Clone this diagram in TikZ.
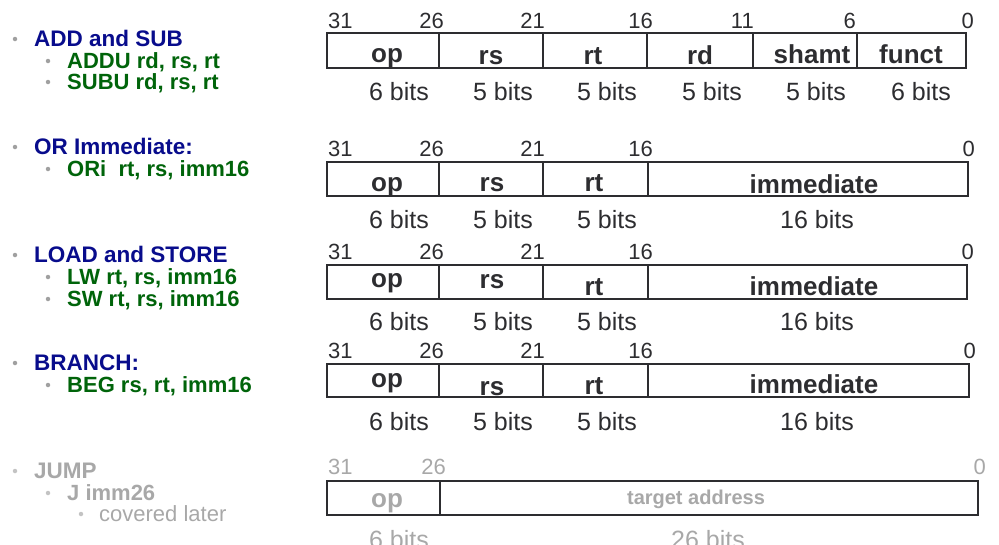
\documentclass[tikz,border=0pt]{standalone}
\usepackage{fontspec}
\setmainfont{Liberation Sans}
\definecolor{navy}{RGB}{8,12,140}
\definecolor{dgreen}{RGB}{0,100,10}
\definecolor{numc}{RGB}{45,45,48}
\definecolor{boxc}{RGB}{45,45,48}
\definecolor{grayt}{RGB}{168,168,168}
\definecolor{bulc}{RGB}{160,160,160}
\definecolor{bull}{RGB}{195,195,195}
\tikzset{
  num/.style={font=\fontsize{22}{24}\selectfont, text=numc, inner sep=0pt},
  numL/.style={num, anchor=base west},
  numR/.style={num, anchor=base east},
  bits/.style={font=\fontsize{25}{28}\selectfont, text=numc, inner sep=0pt, anchor=base},
  fld/.style={font=\bfseries\fontsize{26}{28}\selectfont, text=numc, inner sep=0pt, anchor=base},
  fbox/.style={draw=boxc, line width=2.6pt},
  fdiv/.style={draw=boxc, line width=2.2pt},
  head/.style={font=\bfseries\fontsize{22.5}{24}\selectfont, text=navy, inner sep=0pt, anchor=base west},
  sub/.style={font=\bfseries\fontsize{22}{24}\selectfont, text=dgreen, inner sep=0pt, anchor=base west},
  ghead/.style={head, text=grayt},
  gsub/.style={sub, text=grayt},
  gnum/.style={num, text=grayt},
  bul/.style={fill=bulc, draw=none, circle, inner sep=0pt, minimum size=4.5pt},
  gbul/.style={bul, fill=bull},
}
\begin{document}
\begin{tikzpicture}[x=1pt,y=-1pt]
\useasboundingbox (0,0) rectangle (999,544);

% ---------- left list ----------
\node[bul] (b1) at (15,39) {};
\node[head] (t1) at (34,46) {ADD and SUB};
\node[bul] (b1a) at (48,61) {};
\node[sub] (t1a) at (67,68) {ADDU rd, rs, rt};
\node[bul] (b1b) at (48,82) {};
\node[sub] (t1b) at (67,89) {SUBU rd, rs, rt};

\node[bul] (b2) at (15,147) {};
\node[head] (t2) at (34,154) {OR Immediate:};
\node[bul] (b2a) at (48,169) {};
\node[sub] (t2a) at (67,176) {ORi\ \ rt, rs, imm16};

\node[bul] (b3) at (15,255) {};
\node[head] (t3) at (34,262) {LOAD and STORE};
\node[bul] (b3a) at (48,277) {};
\node[sub] (t3a) at (67,284) {LW rt, rs, imm16};
\node[bul] (b3b) at (48,299) {};
\node[sub] (t3b) at (67,306) {SW rt, rs, imm16};

\node[bul] (b4) at (15,363) {};
\node[head] (t4) at (34,370) {BRANCH:};
\node[bul] (b4a) at (48,385) {};
\node[sub] (t4a) at (67,392) {BEG rs, rt, imm16};

\node[gbul] (b5) at (15,471) {};
\node[ghead] (t5) at (34,478) {JUMP};
\node[gbul] (b5a) at (48,493) {};
\node[gsub] (t5a) at (67,500) {J imm26};
\node[gbul] (b5b) at (81,514) {};
\node[font=\fontsize{22}{24}\selectfont, text=grayt, inner sep=0pt, anchor=base west] (t5b) at (99,521) {covered later};

% ---------- Row 1: R-type ----------
\draw[fbox] (327,33) rectangle (966,68);
\foreach \xx in {439,543,647,753,857} \draw[fdiv] (\xx,33) -- (\xx,68);
\node[numL] (r1n31) at (328,28) {31};
\node[numR] (r1n26) at (444,28) {26};
\node[numR] (r1n21) at (545,28) {21};
\node[numR] (r1n16) at (653,28) {16};
\node[numR] (r1n11) at (754,28) {11};
\node[numR] (r1n6) at (856,28) {6};
\node[numR] (r1n0) at (974,28) {0};
\node[fld] (r1op) at (387,62) {op};
\node[fld] (r1rs) at (491,64) {rs};
\node[fld] (r1rt) at (593,64) {rt};
\node[fld] (r1rd) at (700,64) {rd};
\node[fld] (r1sh) at (812,63) {shamt};
\node[fld] (r1fn) at (911,63) {funct};
\node[bits] (r1b1) at (399,100) {6 bits};
\node[bits] (r1b2) at (503,100) {5 bits};
\node[bits] (r1b3) at (607,100) {5 bits};
\node[bits] (r1b4) at (712,100) {5 bits};
\node[bits] (r1b5) at (816,100) {5 bits};
\node[bits] (r1b6) at (921,100) {6 bits};

% ---------- Row 2: ORi ----------
\draw[fbox] (327,162) rectangle (968,196);
\foreach \xx in {439,543,648} \draw[fdiv] (\xx,162) -- (\xx,196);
\node[numL] (r2n31) at (328,156) {31};
\node[numR] (r2n26) at (444,156) {26};
\node[numR] (r2n21) at (545,156) {21};
\node[numR] (r2n16) at (653,156) {16};
\node[numR] (r2n0) at (975,156) {0};
\node[fld] (r2op) at (387,191) {op};
\node[fld] (r2rs) at (492,191) {rs};
\node[fld] (r2rt) at (594,191) {rt};
\node[fld] (r2im) at (814,193) {immediate};
\node[bits] (r2b1) at (399,228) {6 bits};
\node[bits] (r2b2) at (503,228) {5 bits};
\node[bits] (r2b3) at (607,228) {5 bits};
\node[bits] (r2b4) at (817,228) {16 bits};

% ---------- Row 3: LW/SW ----------
\draw[fbox] (327,265) rectangle (967,299);
\foreach \xx in {439,543,648} \draw[fdiv] (\xx,265) -- (\xx,299);
\node[numL] (r3n31) at (328,259) {31};
\node[numR] (r3n26) at (444,259) {26};
\node[numR] (r3n21) at (545,259) {21};
\node[numR] (r3n16) at (653,259) {16};
\node[numR] (r3n0) at (974,259) {0};
\node[fld] (r3op) at (387,287) {op};
\node[fld] (r3rs) at (492,288) {rs};
\node[fld] (r3rt) at (594,295) {rt};
\node[fld] (r3im) at (814,295) {immediate};
\node[bits] (r3b1) at (399,330) {6 bits};
\node[bits] (r3b2) at (503,330) {5 bits};
\node[bits] (r3b3) at (607,330) {5 bits};
\node[bits] (r3b4) at (817,330) {16 bits};

% ---------- Row 4: BEQ ----------
\draw[fbox] (327,364) rectangle (969,397);
\foreach \xx in {439,543,648} \draw[fdiv] (\xx,364) -- (\xx,397);
\node[numL] (r4n31) at (328,358) {31};
\node[numR] (r4n26) at (444,358) {26};
\node[numR] (r4n21) at (545,358) {21};
\node[numR] (r4n16) at (653,358) {16};
\node[numR] (r4n0) at (976,358) {0};
\node[fld] (r4op) at (387,387) {op};
\node[fld] (r4rs) at (492,395) {rs};
\node[fld] (r4rt) at (594,394) {rt};
\node[fld] (r4im) at (814,393) {immediate};
\node[bits] (r4b1) at (399,430) {6 bits};
\node[bits] (r4b2) at (503,430) {5 bits};
\node[bits] (r4b3) at (607,430) {5 bits};
\node[bits] (r4b4) at (817,430) {16 bits};

% ---------- Row 5: JUMP (greyed) ----------
\draw[fbox] (327,481) rectangle (978,515);
\draw[fdiv] (440,481) -- (440,515);
\node[gnum, anchor=base west] (r5n31) at (328,474) {31};
\node[gnum, anchor=base east] (r5n26) at (446,474) {26};
\node[gnum, anchor=base east] (r5n0) at (986,474) {0};
\node[fld, text=grayt] (r5op) at (387,507) {op};
\node[fld, text=grayt, font=\bfseries\fontsize{20}{22}\selectfont] (r5ta) at (696,504) {target address};
\node[bits, text=grayt] (r5b1) at (399,548) {6 bits};
\node[bits, text=grayt] (r5b2) at (708,548) {26 bits};
\end{tikzpicture}
\end{document}
